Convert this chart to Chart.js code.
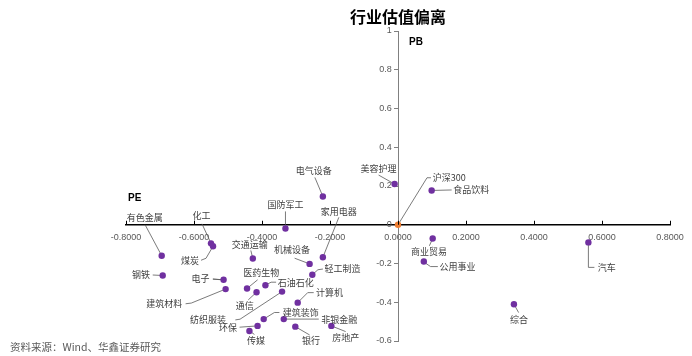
<!DOCTYPE html>
<html>
<head>
<meta charset="utf-8">
<script src="https://cdn.jsdelivr.net/npm/chart.js@4/dist/chart.umd.min.js"></script>
<style>
  html, body { margin: 0; padding: 0; background: #fff; }
  #wrap { width: 692px; height: 356px; position: relative; }
</style>
</head>
<body>
<div id="wrap"><canvas id="c" width="692" height="356"></canvas></div>
<script>
// ---- Data ----
const industries = ['有色金属','化工','煤炭','国防军工','交通运输','电气设备','美容护理','家用电器',
  '食品饮料','商业贸易','公用事业','汽车','综合','钢铁','电子','建筑材料','医药生物','通信',
  '石油石化','纺织服装','计算机','环保','传媒','建筑装饰','非银金融','银行','房地产','机械设备','轻工制造'];
const peDeviation = [-0.695,-0.550,-0.544,-0.331,-0.427,-0.221,-0.010,-0.221,
  0.099,0.102,0.076,0.560,0.341,-0.692,-0.513,-0.507,-0.444,-0.416,
  -0.390,-0.341,-0.295,-0.413,-0.437,-0.395,-0.336,-0.302,-0.196,-0.260,-0.252];
const pbDeviation = [-0.160,-0.096,-0.111,-0.019,-0.174,0.146,0.210,-0.168,
  0.177,-0.071,-0.190,-0.091,-0.410,-0.262,-0.284,-0.332,-0.329,-0.348,
  -0.312,-0.345,-0.402,-0.522,-0.548,-0.487,-0.487,-0.526,-0.522,-0.202,-0.258];
const benchmarkName = ['沪深300'];
const benchmarkPE = [0];
const benchmarkPB = [0];
const xTickValues = [-0.8,-0.6,-0.4,-0.2,0,0.2,0.4,0.6,0.8];
const yTickValues = [-0.6,-0.4,-0.2,0,0.2,0.4,0.6,0.8,1];
const titleText = '行业估值偏离';
const sourceText = '资料来源：Wind、华鑫证券研究';

// ---- Label placement (pixel offsets relative to each point; a = text alignment, t = text anchor, p = leader path) ----
const labelLayout = {
  '有色金属': {a:'center', t:[-17,-38], p:[[-16.6,-31]]},
  '化工':     {a:'center', t:[-9.5,-28], p:[[-9,-19.5]]},
  '煤炭':     {a:'right',  t:[-14,14], p:[[-7,12],[-12,14]]},
  '国防军工': {a:'center', t:[0,-24], p:[[0,-17]]},
  '交通运输': {a:'center', t:[-3,-14], p:[[-2,-8]]},
  '电气设备': {a:'center', t:[-9,-26], p:[[-8,-19]]},
  '美容护理': {a:'center', t:[-16,-15], p:[[-16,-9]]},
  '家用电器': {a:'center', t:[16,-46], p:[[16,-40]]},
  '沪深300':  {a:'left',   t:[34.7,-47], p:[[29,-47],[33,-47]]},
  '食品饮料': {a:'left',   t:[21.7,-0.5], p:[[20,-0.5]]},
  '商业贸易': {a:'center', t:[-3.6,13], p:[[-3.3,7.3]]},
  '公用事业': {a:'left',   t:[15.7,5], p:[[1.7,1.6],[6.7,5],[14,5]]},
  '汽车':     {a:'left',   t:[9.3,25], p:[[0,25],[6,25]]},
  '综合':     {a:'center', t:[5,15.7], p:[[4.7,8.4]]},
  '钢铁':     {a:'right',  t:[-12.6,-0.5], p:[[-10,-0.5]]},
  '电子':     {a:'right',  t:[-14,-1], p:[[-10.7,-0.7],[-2.3,0]]},
  '建筑材料': {a:'right',  t:[-43.3,14.7], p:[[-34.3,14],[-40,14.7]]},
  '医药生物': {a:'center', t:[14.3,-16], p:[[10.6,-8.7]]},
  '通信':     {a:'center', t:[-11.7,13.7], p:[[-8.3,7.7]]},
  '石油石化': {a:'left',   t:[12.3,-3], p:[[5.7,-3],[10.7,-3]]},
  '纺织服装': {a:'right',  t:[-56,28.3], p:[[-42,27.6],[-46.7,28.3]]},
  '环保':     {a:'right',  t:[-20.7,1.3], p:[[-18,1.3]]},
  '传媒':     {a:'center', t:[6.7,9.7], p:[[5,3.5]]},
  '建筑装饰': {a:'left',   t:[19,-6.6], p:[[10.7,-6.6],[15.7,-6.6]]},
  '非银金融': {a:'left',   t:[37.4,0], p:[[35,0]]},
  '银行':     {a:'center', t:[15.6,14], p:[[14.3,8.3]]},
  '房地产':   {a:'center', t:[14.3,11.3], p:[[14.3,5.7]]},
  '机械设备': {a:'center', t:[-17.5,-14.7], p:[[-15,-5.7]]},
  '轻工制造': {a:'left',   t:[12.3,-5.7], p:[[5.6,-5],[10.6,-5.7]]},
  '计算机':   {a:'left',   t:[18.4,-10], p:[[10,-10],[16,-10]]}
};

const CJK = '"Noto Sans CJK SC", "Noto Sans", sans-serif';
const LAT = '"Liberation Sans", Arial, sans-serif';

const pointLabels = {
  id: 'pointLabels',
  beforeDatasetsDraw(chart) {
    const ctx = chart.ctx;
    ctx.save();
    ctx.strokeStyle = '#595959';
    ctx.lineWidth = 0.8;
    chart.data.datasets.forEach((ds, di) => {
      const meta = chart.getDatasetMeta(di);
      meta.data.forEach((el, i) => {
        const L = labelLayout[ds.names[i]];
        if (!L) return;
        ctx.beginPath();
        ctx.moveTo(el.x, el.y);
        L.p.forEach(q => ctx.lineTo(el.x + q[0], el.y + q[1]));
        ctx.stroke();
      });
    });
    ctx.restore();
  },
  afterDatasetsDraw(chart) {
    const ctx = chart.ctx;
    ctx.save();
    ctx.font = '9px ' + CJK;
    ctx.fillStyle = '#404040';
    ctx.textBaseline = 'middle';
    chart.data.datasets.forEach((ds, di) => {
      const meta = chart.getDatasetMeta(di);
      meta.data.forEach((el, i) => {
        const L = labelLayout[ds.names[i]];
        if (!L) return;
        ctx.textAlign = L.a;
        ctx.fillText(ds.names[i], el.x + L.t[0], el.y + L.t[1]);
      });
    });
    ctx.restore();
  },
  afterDraw(chart) {
    const ctx = chart.ctx;
    const xs = chart.scales.x, ys = chart.scales.y;
    const x0 = xs.getPixelForValue(0), y0 = ys.getPixelForValue(0);
    ctx.save();
    // upward tick marks on x axis
    ctx.strokeStyle = '#000';
    ctx.lineWidth = 1;
    xs.ticks.forEach((t, i) => {
      const px = Math.round(xs.getPixelForTick(i)) + 0.5;
      ctx.beginPath(); ctx.moveTo(px, y0); ctx.lineTo(px, y0 - 4); ctx.stroke();
    });
    // title
    ctx.fillStyle = '#000';
    ctx.font = 'bold 16px ' + CJK;
    ctx.textAlign = 'center';
    ctx.textBaseline = 'middle';
    ctx.fillText(titleText, x0, 17);
    // axis names
    ctx.font = 'bold 10px ' + LAT;
    ctx.textAlign = 'left';
    ctx.fillText('PB', x0 + 11, ys.top + 11);
    ctx.fillText('PE', xs.left + 2, y0 - 27);
    // source
    ctx.font = '10.5px ' + CJK;
    ctx.fillStyle = '#595959';
    ctx.fillText(sourceText, 10, 347);
    ctx.restore();
  }
};

new Chart(document.getElementById('c'), {
  type: 'scatter',
  data: {
    datasets: [
      {
        label: '行业',
        names: industries,
        data: peDeviation.map((v, i) => ({x: v, y: pbDeviation[i]})),
        backgroundColor: '#7030A0',
        borderColor: '#7030A0',
        pointRadius: 3.2,
        borderWidth: 0
      },
      {
        label: '沪深300',
        names: benchmarkName,
        data: benchmarkPE.map((v, i) => ({x: v, y: benchmarkPB[i]})),
        backgroundColor: '#ED7D31',
        borderColor: '#ED7D31',
        pointRadius: 3.2,
        borderWidth: 0
      }
    ]
  },
  options: {
    responsive: false,
    animation: false,
    layout: { padding: { left: 126, right: 22, top: 31, bottom: 15 } },
    plugins: { legend: { display: false }, tooltip: { enabled: false }, title: { display: false } },
    scales: {
      x: {
        type: 'linear',
        position: { y: 0 },
        min: -0.8, max: 0.8,
        afterBuildTicks: s => { s.ticks = xTickValues.map(v => ({value: v})); },
        grid: { drawOnChartArea: false, drawTicks: false },
        border: { color: '#000', width: 1.5 },
        ticks: {
          padding: 7,
          maxRotation: 0,
          autoSkip: false,
          color: '#595959',
          font: { family: LAT, size: 9 },
          callback: v => Number(v).toFixed(4)
        }
      },
      y: {
        type: 'linear',
        position: { x: 0 },
        min: -0.6, max: 1,
        afterBuildTicks: s => { s.ticks = yTickValues.map(v => ({value: v})); },
        grid: { drawOnChartArea: false, drawTicks: true, tickLength: 4, color: '#808080' },
        border: { color: '#808080', width: 1 },
        ticks: {
          padding: 2,
          autoSkip: false,
          color: '#595959',
          font: { family: LAT, size: 9 },
          callback: v => String(+Number(v).toFixed(1)) + '\u2002\u2009'
        }
      }
    }
  },
  plugins: [pointLabels]
});
</script>
</body>
</html>
